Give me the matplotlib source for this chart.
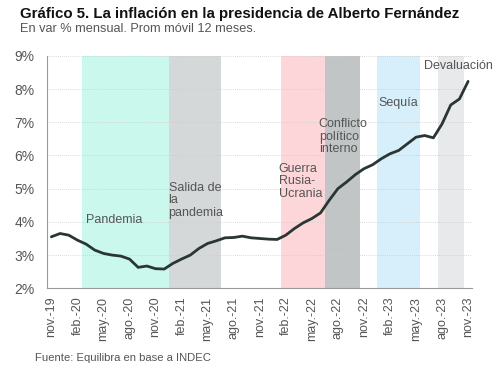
import matplotlib
matplotlib.use("Agg")
import matplotlib.pyplot as plt

plt.rcParams['font.family'] = ['Liberation Sans', 'DejaVu Sans']

# Monthly series nov-19 .. nov-23 (12-month moving average of monthly inflation, %)
months = ["nov.-19", "dic.-19", "ene.-20", "feb.-20", "mar.-20", "abr.-20", "may.-20",
          "jun.-20", "jul.-20", "ago.-20", "sep.-20", "oct.-20", "nov.-20", "dic.-20",
          "ene.-21", "feb.-21", "mar.-21", "abr.-21", "may.-21", "jun.-21", "jul.-21",
          "ago.-21", "sep.-21", "oct.-21", "nov.-21", "dic.-21", "ene.-22", "feb.-22",
          "mar.-22", "abr.-22", "may.-22", "jun.-22", "jul.-22", "ago.-22", "sep.-22",
          "oct.-22", "nov.-22", "dic.-22", "ene.-23", "feb.-23", "mar.-23", "abr.-23",
          "may.-23", "jun.-23", "jul.-23", "ago.-23", "sep.-23", "oct.-23", "nov.-23"]
values = [3.55, 3.65, 3.60, 3.45, 3.33, 3.15, 3.05, 3.00, 2.97, 2.88, 2.63, 2.67, 2.59,
          2.58, 2.75, 2.88, 3.00, 3.20, 3.35, 3.43, 3.52, 3.53, 3.57, 3.52, 3.50, 3.48,
          3.47, 3.60, 3.80, 3.97, 4.10, 4.27, 4.65, 5.00, 5.20, 5.42, 5.60, 5.72, 5.90,
          6.05, 6.15, 6.35, 6.55, 6.60, 6.53, 6.95, 7.52, 7.70, 8.23]

# Shaded periods: (label, first month, last month)
periods = ["Pandemia", "Salida de\nla\npandemia", "Guerra\nRusia-\nUcrania",
           "Conflicto\npolítico\ninterno", "Sequía", "Devaluación"]
period_start = ["mar.-20", "ene.-21", "feb.-22", "jul.-22", "ene.-23", "ago.-23"]
period_end = ["dic.-20", "jun.-21", "jun.-22", "oct.-22", "may.-23", "oct.-23"]
period_colors = ["#cbf8ed", "#d5d8d9", "#fdd6d9", "#c1c5c6", "#d6effa", "#e8e9ea"]
# label anchor (month, y value)
label_month = ["mar.-20", "dic.-20", "ene.-22", "may.-22", "ene.-23", "jun.-23"]
label_y = [4.07, 4.65, 5.22, 6.57, 7.57, 8.70]
label_dx = [0.0, 0.5, 0.2, 0.8, -0.3, -0.1]

yticks = [2, 3, 4, 5, 6, 7, 8, 9]

fig = plt.figure(figsize=(4.97, 3.72), dpi=100)
ax = fig.add_axes([0.0946, 0.225, 0.856, 0.625])

x = list(range(len(months)))
idx = {m: i for i, m in enumerate(months)}

for s, e, c in zip(period_start, period_end, period_colors):
    ax.axvspan(idx[s] - 0.5, idx[e] + 0.5, color=c, lw=0, zorder=1)

ax.plot(x, values, color="#2a3634", lw=2.0, zorder=3, solid_capstyle='round')

for lab, m, yv, dx in zip(periods, label_month, label_y, label_dx):
    ax.text(idx[m] + dx, yv, lab, fontsize=9, color="#555555", ha='left', va='center',
            linespacing=1.05, zorder=4)

ax.set_xlim(-0.5, len(months) - 0.5)
ax.set_ylim(2, 9)
ax.set_yticks(yticks)
ax.set_yticklabels([f"{v}%" for v in yticks])
tick_pos = x[::3]
ax.set_xticks(tick_pos)
ax.set_xticklabels([months[i] for i in tick_pos], rotation=90)
ax.tick_params(axis='y', length=0, pad=9, labelsize=10, labelcolor="#555555")
ax.tick_params(axis='x', length=0, pad=6, labelsize=9, labelcolor="#555555")

ax.grid(axis='y', color="#cccccc", lw=0.6, ls=(0, (1, 1.5)), zorder=2)
ax.set_axisbelow(False)
for s in ['top', 'right']:
    ax.spines[s].set_visible(False)
for s in ['left', 'bottom']:
    ax.spines[s].set_color("#9a9a9a")
    ax.spines[s].set_linewidth(0.8)
    ax.spines[s].set_zorder(5)

fig.text(20 / 497, 1 - 14 / 372, "Gráfico 5. La inflación en la presidencia de Alberto Fernández",
         fontsize=10.8, fontweight='bold', color="#111111", ha='left', va='center')
fig.text(20 / 497, 1 - 29 / 372, "En var % mensual. Prom móvil 12 meses.",
         fontsize=9.2, color="#555555", ha='left', va='center')
fig.text(35 / 497, 1 - 358 / 372, "Fuente: Equilibra en base a INDEC",
         fontsize=8.1, color="#555555", ha='left', va='center')

fig.savefig("out.png", dpi=100, facecolor="white")
